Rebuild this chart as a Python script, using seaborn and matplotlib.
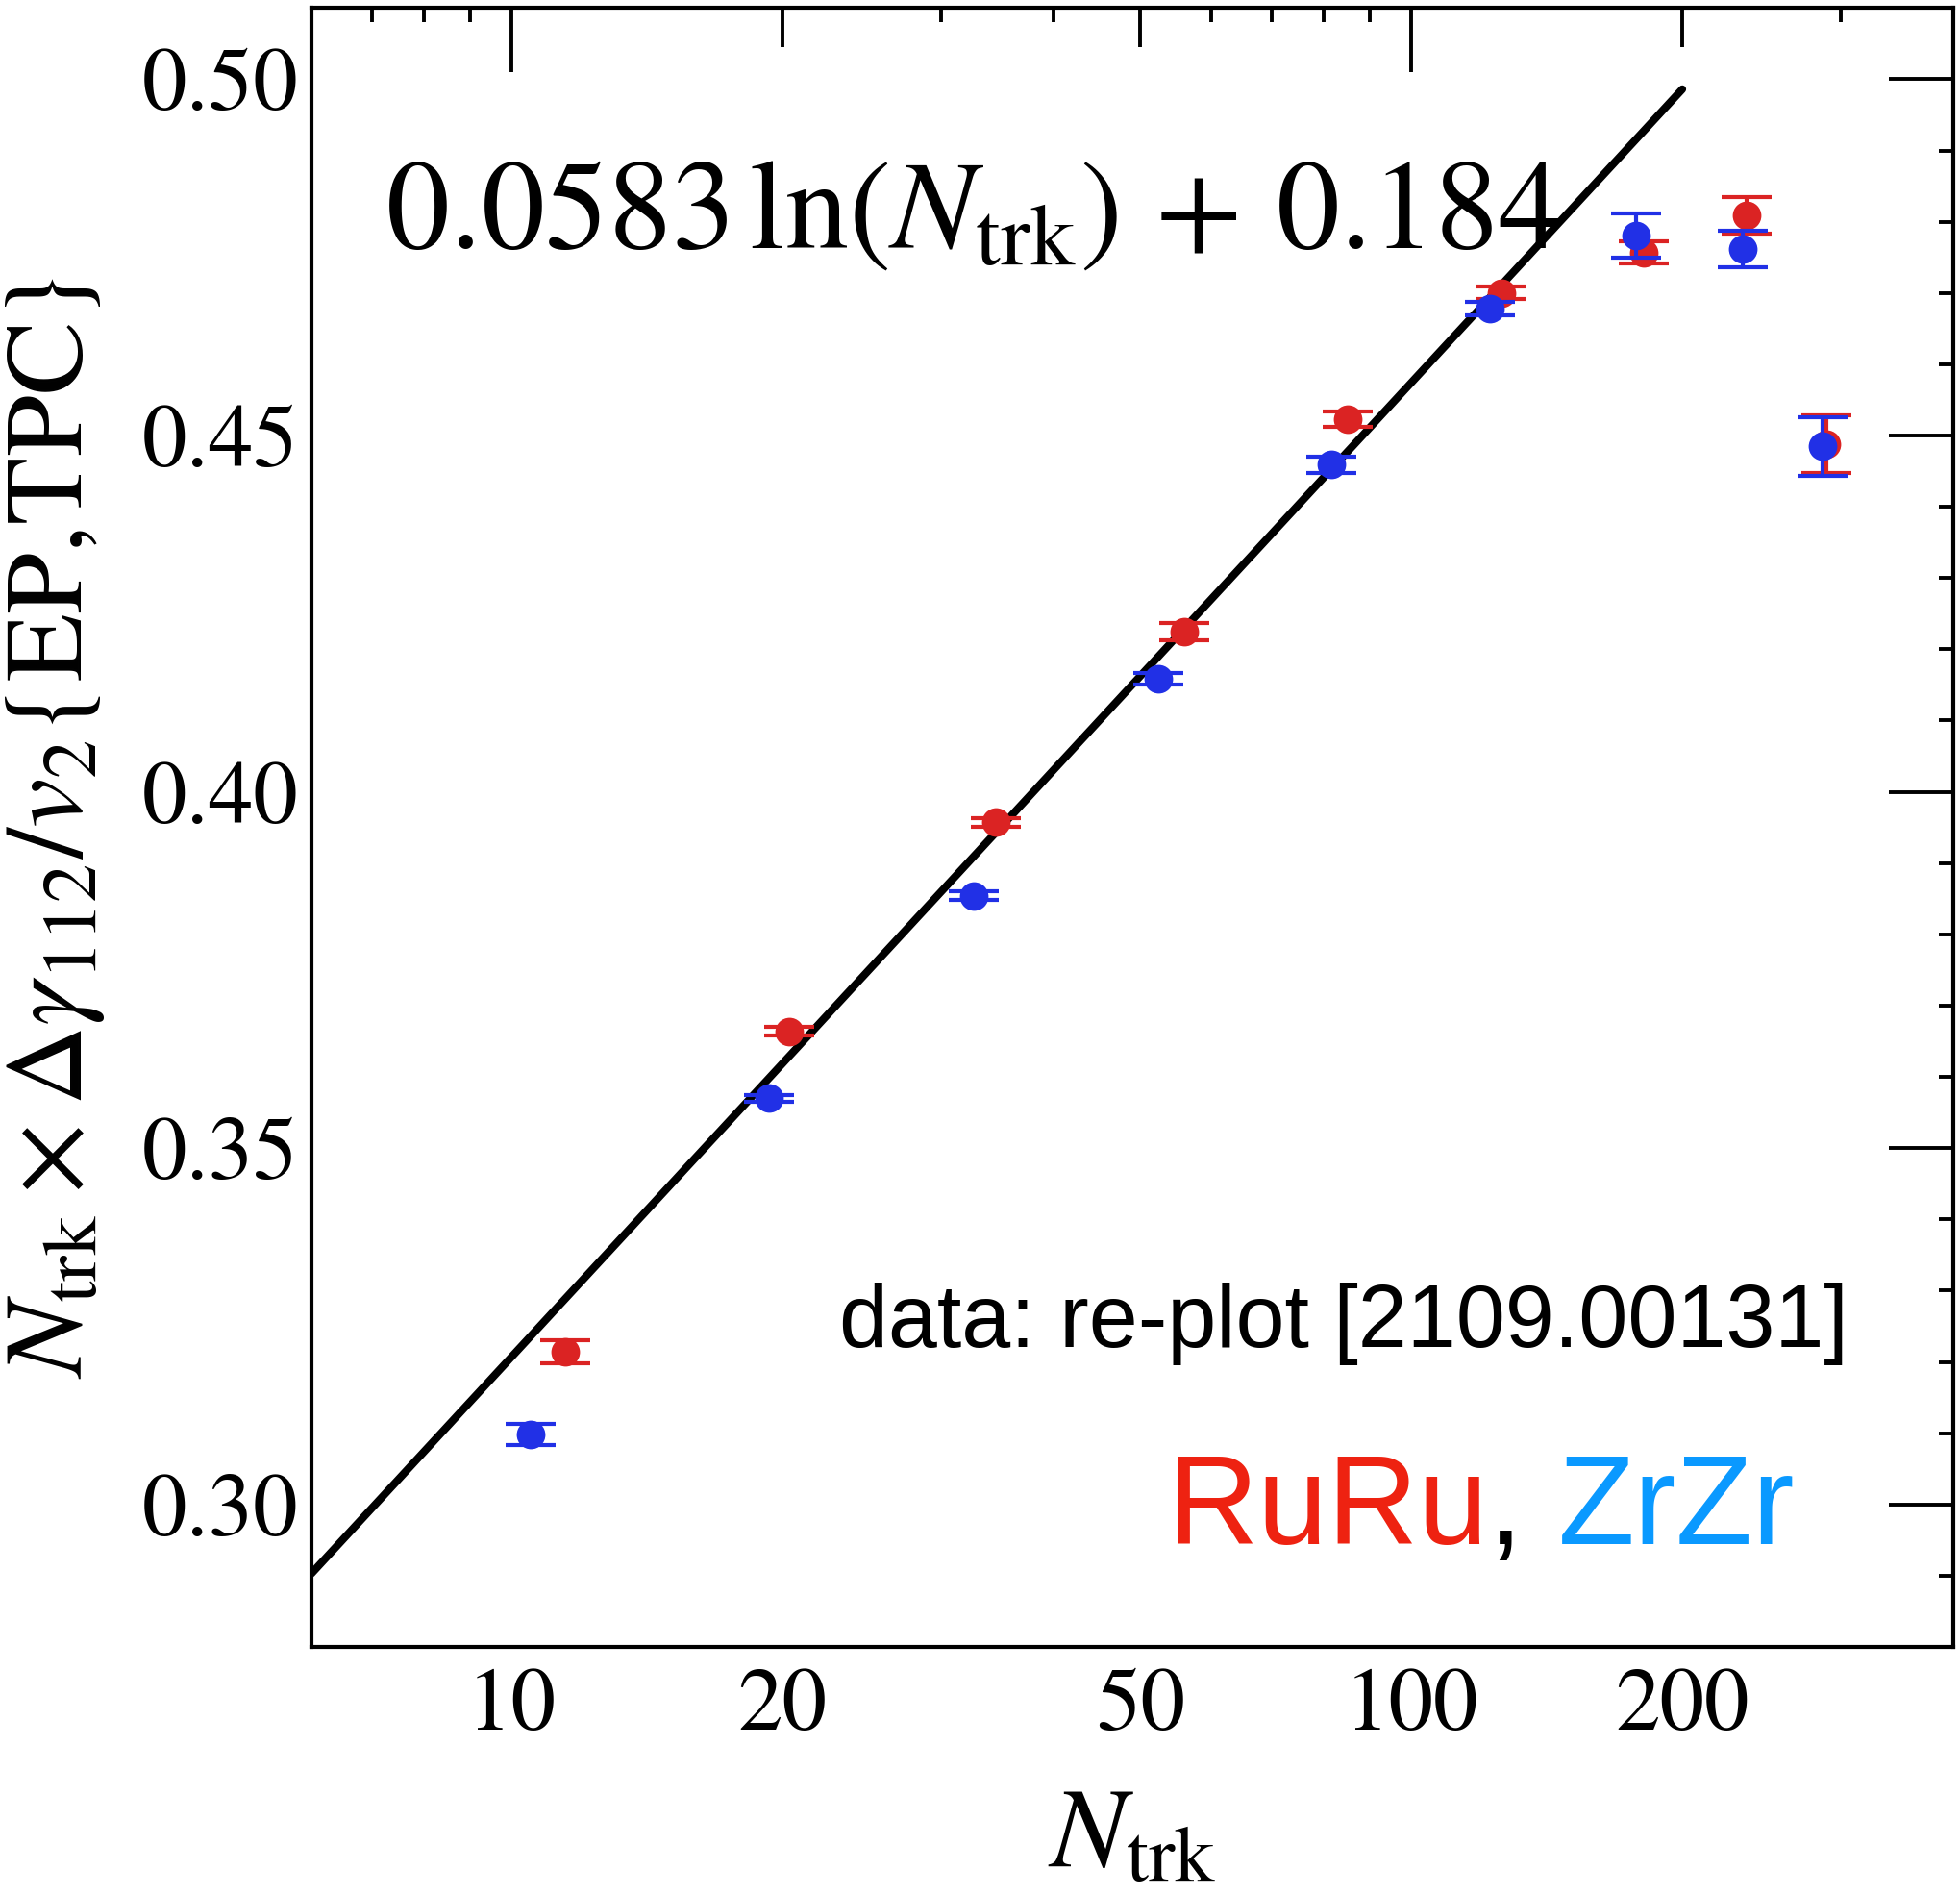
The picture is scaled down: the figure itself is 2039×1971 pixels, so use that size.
import numpy as np
import pandas as pd
import matplotlib
matplotlib.use('Agg')
import matplotlib.pyplot as plt
from matplotlib.ticker import FixedLocator, FixedFormatter, NullFormatter
import seaborn as sns

# valores (N_trk, valor, error)
ruru_n = [11.49, 20.37, 34.56, 55.88, 85.04, 125.8, 181.4, 235.7, 288.9]
ruru_val = [0.3214, 0.3664, 0.3957, 0.4225, 0.4523, 0.4700, 0.4757, 0.4809, 0.4488]
ruru_err = [0.0016, 0.0006, 0.0006, 0.0012, 0.0011, 0.0009, 0.0016, 0.0026, 0.0040]

zrzr_n = [10.50, 19.36, 32.66, 52.41, 81.50, 122.3, 177.7, 233.2, 286.4]
zrzr_val = [0.3098, 0.3570, 0.3854, 0.4159, 0.4459, 0.4678, 0.4780, 0.4762, 0.4485]
zrzr_err = [0.0015, 0.0005, 0.0006, 0.0008, 0.0011, 0.0009, 0.0031, 0.0026, 0.0041]

# recta del ajuste (extremos)
fit_n = [6, 200]
fit_val = [0.2903, 0.4986]

x_major = [10, 20, 50, 100, 200]
x_major_labels = ['10', '20', '50', '100', '200']
x_minor = [7, 8, 9, 30, 40, 60, 70, 80, 90, 300]
y_major = [0.30, 0.35, 0.40, 0.45, 0.50]
y_major_labels = ['0.30', '0.35', '0.40', '0.45', '0.50']

color_ru = '#db2323'
color_zr = '#2130e6'

sns.set_style('white')
plt.rcParams['font.family'] = ['STIXGeneral', 'DejaVu Serif']
plt.rcParams['mathtext.fontset'] = 'stix'
for k in ['text.color', 'axes.labelcolor', 'xtick.color', 'ytick.color', 'axes.edgecolor']:
    plt.rcParams[k] = 'black'

df = pd.concat([
    pd.DataFrame({'n': ruru_n, 'val': ruru_val, 'err': ruru_err, 'sistema': 'RuRu'}),
    pd.DataFrame({'n': zrzr_n, 'val': zrzr_val, 'err': zrzr_err, 'sistema': 'ZrZr'}),
], ignore_index=True)

fig = plt.figure(figsize=(20.39, 19.71), dpi=100)
ax = fig.add_axes([324 / 2039, 1 - 1713 / 1971, (2032 - 324) / 2039, (1713 - 8.3) / 1971])

sns.lineplot(x=fit_n, y=fit_val, color='black', linewidth=5.8, ax=ax, zorder=2)

for sistema, color in [('RuRu', color_ru), ('ZrZr', color_zr)]:
    d = df[df['sistema'] == sistema]
    ax.errorbar(d['n'], d['val'], yerr=d['err'], fmt='none', ecolor=color,
                elinewidth=3, capsize=18.7, capthick=3, zorder=3)
    sns.scatterplot(data=d, x='n', y='val', color=color, s=460, linewidth=0,
                    legend=False, ax=ax, zorder=3)

ax.set_xscale('log')
ax.set_xlim(6, 400)
ax.set_ylim(0.28, 0.51)

ax.xaxis.set_major_locator(FixedLocator(x_major))
ax.xaxis.set_major_formatter(FixedFormatter(x_major_labels))
ax.xaxis.set_minor_locator(FixedLocator(x_minor))
ax.xaxis.set_minor_formatter(NullFormatter())
ax.yaxis.set_major_locator(FixedLocator(y_major))
ax.yaxis.set_major_formatter(FixedFormatter(y_major_labels))
ax.yaxis.set_minor_locator(FixedLocator(np.arange(0.28, 0.515, 0.01)))

ax.tick_params(which='both', direction='in', top=True, right=True, width=2.8, color='black')
ax.tick_params(which='major', length=29.5, labelsize=67)
ax.tick_params(axis='y', which='major', length=48, pad=10)
ax.tick_params(axis='x', which='major', pad=16)
ax.tick_params(which='minor', length=10.8)

for sp in ax.spines.values():
    sp.set_linewidth(3)
    sp.set_color('black')

ax.set_xlabel(r'$N_{\rm trk}$', fontsize=85, labelpad=30)
ax.set_ylabel(r'$N_{\rm trk}\:\times\:\Delta\gamma_{112}/v_2$' + '{EP,TPC}', fontsize=83, labelpad=26)

ax.text(0.0449, 0.854, r'$0.0583\,\ln(N_{\rm trk})\,+\,0.184$', transform=ax.transAxes,
        fontsize=95, ha='left', va='baseline')
ax.text(0.936, 0.183, 'data: re-plot [2109.00131]', transform=ax.transAxes,
        fontsize=66, family='Liberation Sans', ha='right', va='baseline')

t_zr = ax.text(0.9034, 0.0628, 'ZrZr', transform=ax.transAxes, fontsize=94,
               family='Liberation Sans', color='#0a99ff', ha='right', va='baseline')
t_coma = ax.annotate(', ', xy=(0, 0), xycoords=t_zr, fontsize=94, family='Liberation Sans',
                     color='black', ha='right', va='bottom')
ax.annotate('RuRu', xy=(0, 0), xycoords=t_coma, fontsize=94, family='Liberation Sans',
            color='#ee2211', ha='right', va='bottom')

# ticks largos en 10 y 100
for tick, pos in zip(ax.xaxis.get_major_ticks(), x_major):
    if pos in (10, 100):
        tick.tick1line.set_markersize(48)
        tick.tick2line.set_markersize(48)

fig.savefig('out.png', dpi=100)
